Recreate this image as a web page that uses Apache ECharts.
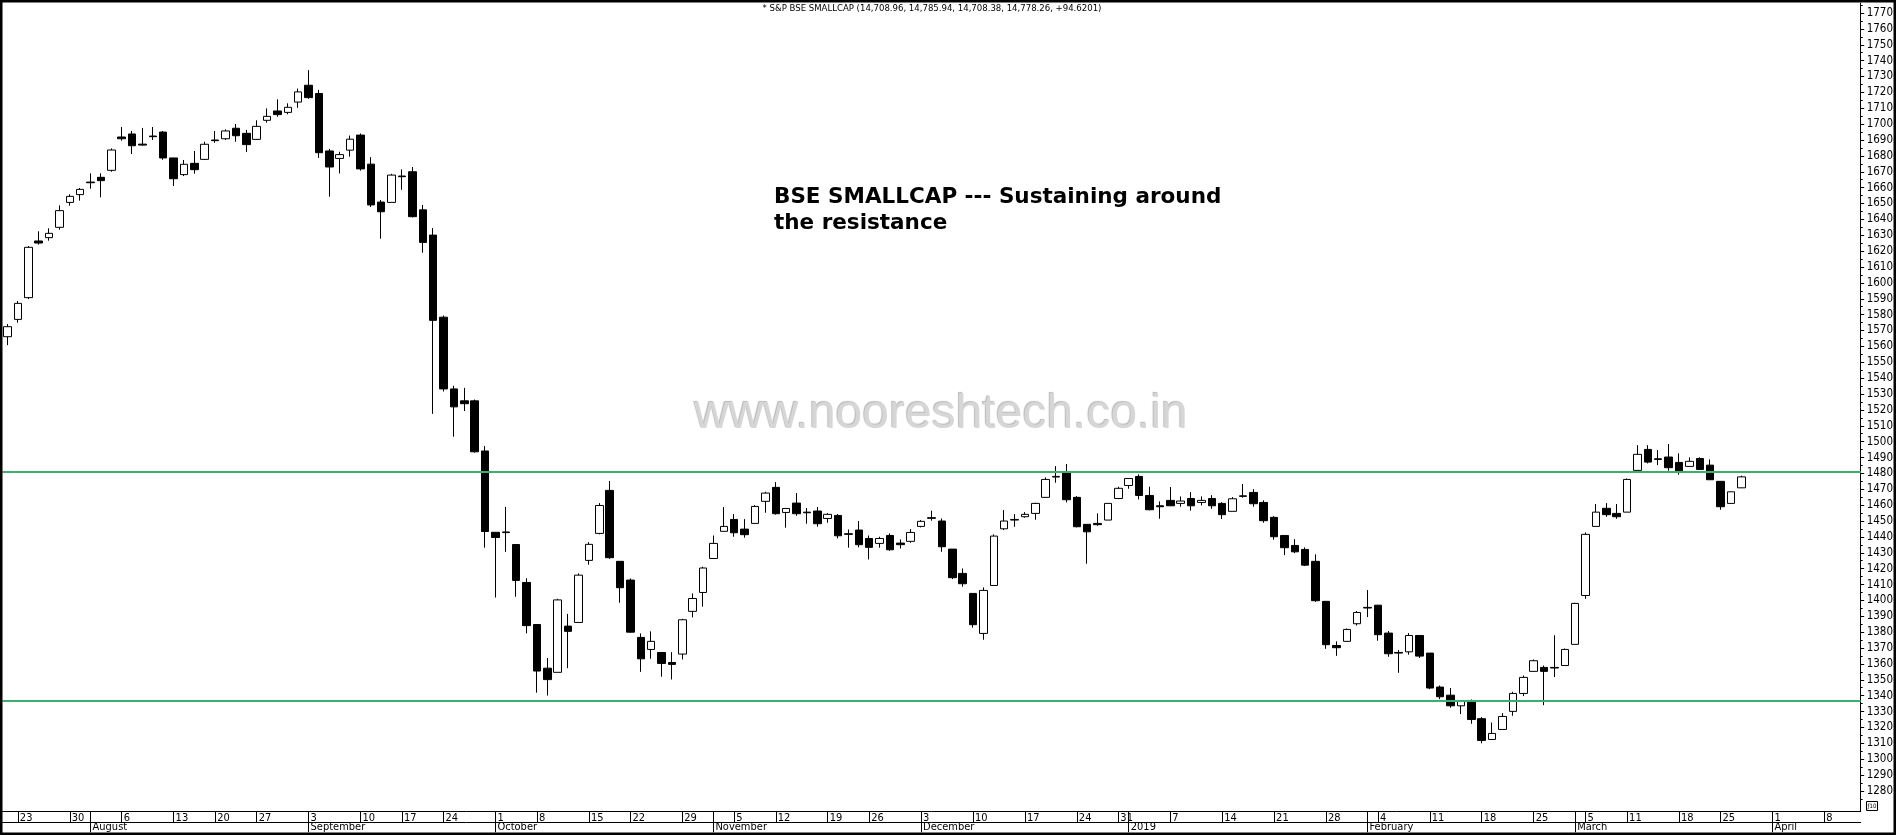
<!DOCTYPE html>
<html><head><meta charset="utf-8">
<script src="https://cdn.jsdelivr.net/npm/echarts@6/dist/echarts.min.js"></script>
<style>html,body{margin:0;padding:0;background:#fff}#c{width:1896px;height:835px}</style>
</head><body><div id="c"></div>
<script>
// Trading days per month (BSE), chart runs Jul 20 2018 .. Apr 11 2019
const jul18=[20,23,24,25,26,27,30,31];
const aug18=[1,2,3,6,7,8,9,10,13,14,16,17,20,21,23,24,27,28,29,30,31];
const sep18=[3,4,5,6,7,10,11,12,14,17,18,19,21,24,25,26,27,28];
const oct18=[1,3,4,5,8,9,10,11,12,15,16,17,19,22,23,24,25,26,29,30,31];
const nov18=[1,2,5,6,7,9,12,13,14,15,16,19,20,21,22,26,27,28,29,30];
const dec18=[3,4,5,6,7,10,11,12,13,14,17,18,19,20,21,24,26,27,28,31];
const jan19=[1,2,3,4,7,8,9,10,11,14,15,16,17,18,21,22,23,24,25,28,29,30,31];
const feb19=[1,4,5,6,7,8,11,12,13,14,15,18,19,20,21,22,25,26,27,28];
const mar19=[1,5,6,7,8,11,12,13,14,15,18,19,20,22,25,26,27,28,29];
const apr19=[1,2,3,4,5,8,9,10,11];

const opens=[1566.1,1577.0,1590.7,1626.4,1628.5,1635.0,1650.7,1655.6,1663.5,1666.5,
1670.9,1691.9,1693.8,1687.4,1692.5,1695.0,1678.7,1668.2,1675.3,1677.8,
1690.0,1690.8,1697.4,1694.2,1690.4,1702.4,1708.3,1707.4,1713.9,1724.5,
1719.3,1683.1,1678.4,1683.6,1693.1,1674.8,1650.9,1650.7,1667.3,1670.0,
1646.0,1630.1,1578.4,1533.2,1525.7,1525.7,1494.1,1442.9,1443.1,1435.2,
1411.3,1384.8,1357.3,1354.7,1383.8,1386.1,1425.2,1442.2,1469.3,1424.6,
1412.8,1376.7,1369.1,1367.2,1360.9,1366.2,1393.1,1405.0,1426.4,1443.5,
1451.0,1444.9,1448.5,1462.4,1471.2,1455.4,1461.3,1455.6,1456.3,1451.6,
1453.5,1442.0,1444.3,1439.0,1435.9,1440.9,1436.1,1437.2,1446.6,1452.1,
1450.0,1432.3,1417.0,1404.4,1379.2,1409.4,1445.1,1450.6,1452.7,1454.8,
1464.9,1477.7,1480.4,1464.9,1447.9,1448.5,1450.6,1464.2,1472.4,1478.1,
1466.1,1459.6,1463.0,1461.1,1464.2,1461.7,1464.2,1461.1,1456.1,1465.5,
1468.0,1461.7,1452.3,1440.9,1434.6,1432.1,1424.6,1399.4,1371.6,1374.2,
1385.3,1395.6,1397.0,1379.4,1367.2,1367.6,1377.9,1366.8,1345.4,1340.3,
1333.6,1336.6,1325.5,1312.4,1318.7,1330.1,1341.4,1355.3,1357.8,1357.8,
1359.0,1372.3,1403.1,1446.6,1458.0,1454.8,1455.6,1481.9,1495.1,1489.2,
1490.3,1486.9,1484.4,1489.4,1485.2,1475.0,1461.1,1470.9];
const highs=[1574.1,1588.6,1623.2,1632.5,1634.4,1648.8,1655.8,1659.8,1669.0,1669.0,
1684.7,1698.2,1695.7,1697.6,1698.2,1695.7,1678.8,1677.4,1683.1,1688.9,
1695.7,1696.7,1700.1,1696.3,1702.4,1709.9,1715.6,1713.1,1722.4,1734.0,
1721.6,1684.4,1682.6,1692.8,1694.1,1679.2,1652.2,1668.7,1671.5,1673.0,
1649.1,1634.5,1579.4,1535.2,1533.9,1526.5,1497.2,1442.9,1458.9,1435.2,
1413.9,1384.8,1363.7,1401.0,1391.5,1417.0,1436.7,1461.3,1475.2,1424.6,
1413.8,1379.2,1380.5,1367.2,1367.4,1388.4,1404.4,1421.2,1440.9,1458.8,
1454.4,1451.2,1460.0,1468.4,1474.5,1457.9,1467.6,1458.2,1458.8,1455.0,
1454.4,1444.7,1450.0,1440.9,1440.1,1442.2,1438.4,1444.9,1450.6,1456.5,
1451.6,1432.3,1420.1,1404.4,1408.2,1441.6,1456.9,1454.4,1455.6,1461.5,
1477.5,1484.6,1485.9,1465.7,1447.9,1454.8,1461.1,1471.6,1476.8,1479.4,
1471.6,1462.4,1471.4,1465.5,1468.2,1465.5,1466.3,1461.9,1465.1,1473.3,
1470.1,1463.0,1453.1,1440.9,1438.6,1433.4,1429.0,1399.4,1374.2,1382.3,
1393.3,1406.5,1397.0,1380.7,1368.7,1379.4,1377.9,1366.8,1346.4,1344.8,
1336.9,1337.6,1326.5,1323.1,1329.0,1342.4,1352.7,1362.8,1359.0,1378.1,
1369.7,1398.5,1442.8,1460.7,1461.3,1460.7,1476.8,1497.8,1497.8,1494.7,
1498.5,1492.6,1490.1,1490.1,1488.8,1475.0,1468.4,1478.6];
const lows=[1560.8,1574.9,1589.8,1624.1,1626.6,1633.5,1648.6,1651.8,1659.3,1653.9,
1670.0,1689.6,1681.2,1686.4,1690.0,1677.6,1661.0,1667.3,1668.8,1677.4,
1688.3,1690.0,1688.9,1682.4,1690.0,1700.9,1704.7,1706.2,1710.3,1716.0,
1678.7,1654.3,1668.9,1679.5,1670.7,1647.8,1627.8,1650.7,1658.6,1641.2,
1619.0,1517.5,1531.6,1503.1,1519.3,1493.1,1433.2,1401.8,1430.6,1402.3,
1379.2,1341.9,1340.1,1354.7,1357.3,1386.1,1422.5,1441.6,1426.2,1398.5,
1379.6,1355.0,1363.2,1351.9,1350.2,1362.8,1389.3,1396.0,1426.4,1443.5,
1440.1,1439.5,1448.5,1455.2,1454.0,1445.8,1453.3,1448.3,1446.4,1448.9,
1439.1,1433.2,1433.4,1425.8,1433.2,1431.3,1432.7,1436.3,1446.0,1450.2,
1430.6,1413.4,1408.6,1382.8,1375.2,1409.4,1444.3,1446.4,1452.1,1450.8,
1464.9,1474.1,1461.7,1446.0,1423.1,1447.0,1450.6,1463.8,1470.3,1463.6,
1456.7,1451.4,1459.6,1459.0,1456.5,1459.8,1457.7,1451.2,1456.1,1464.7,
1459.0,1448.9,1438.2,1428.5,1429.8,1421.6,1399.1,1369.5,1365.1,1374.2,
1384.2,1389.5,1374.6,1364.5,1354.4,1365.8,1363.7,1344.1,1337.8,1332.4,
1328.4,1322.3,1310.0,1312.0,1318.7,1327.3,1339.7,1355.3,1334.0,1351.7,
1359.0,1372.3,1401.0,1446.6,1452.7,1451.4,1455.6,1481.9,1486.3,1485.2,
1481.7,1479.2,1484.4,1482.5,1476.0,1457.1,1461.1,1470.8];
const closes=[1572.4,1587.1,1622.4,1625.1,1631.2,1645.5,1654.5,1658.9,1663.1,1664.4,
1683.7,1690.8,1686.4,1686.8,1692.1,1678.7,1665.6,1674.7,1671.3,1687.3,
1689.6,1695.7,1692.7,1687.1,1698.6,1704.9,1706.0,1710.6,1720.3,1716.7,
1682.0,1673.0,1680.8,1690.5,1671.8,1649.1,1644.8,1667.9,1666.9,1641.7,
1625.5,1576.4,1533.2,1521.9,1523.9,1493.6,1443.4,1439.6,1442.7,1412.6,
1384.1,1355.5,1350.1,1400.3,1380.5,1415.9,1435.3,1459.8,1426.9,1408.0,
1380.0,1363.2,1374.2,1360.3,1359.7,1387.8,1401.2,1420.4,1435.9,1446.6,
1442.6,1441.4,1459.2,1467.6,1454.6,1457.9,1454.6,1455.2,1448.3,1454.2,
1440.7,1441.6,1435.1,1433.4,1439.0,1431.9,1435.1,1442.8,1449.8,1451.7,
1433.8,1414.3,1410.5,1384.7,1406.3,1440.5,1450.0,1451.0,1454.2,1461.1,
1476.2,1478.1,1463.4,1446.4,1443.2,1447.7,1461.1,1470.6,1476.8,1466.1,
1457.1,1459.0,1459.6,1462.6,1459.6,1463.0,1459.6,1454.0,1464.0,1465.9,
1460.9,1450.2,1440.1,1433.2,1430.6,1422.2,1399.8,1372.1,1370.2,1381.7,
1392.4,1395.2,1378.4,1366.4,1366.8,1377.9,1364.9,1344.8,1339.3,1333.6,
1336.6,1325.0,1311.8,1316.2,1326.9,1341.4,1351.5,1362.0,1355.3,1357.4,
1369.1,1398.1,1441.6,1455.6,1454.0,1452.7,1476.2,1492.0,1487.1,1488.8,
1483.6,1481.0,1487.6,1482.5,1476.0,1459.0,1468.4,1477.8];

const yTicks=[1280,1290,1300,1310,1320,1330,1340,1350,1360,1370,1380,1390,1400,1410,1420,1430,1440,1450,1460,1470,1480,1490,1500,1510,1520,1530,1540,1550,1560,1570,1580,1590,1600,1610,1620,1630,1640,1650,1660,1670,1680,1690,1700,1710,1720,1730,1740,1750,1760,1770];
const levels=[1481,1337];
const monthNames=['January','February','March','April','May','June','July','August','September','October','November','December'];
const headerText='* S&P BSE SMALLCAP (14,708.96, 14,785.94, 14,708.38, 14,778.26, +94.6201)';
const titleLines=['BSE SMALLCAP --- Sustaining around','the resistance'];
const watermark='www.nooreshtech.co.in';

const monthLists=[[2018,7,jul18],[2018,8,aug18],[2018,9,sep18],[2018,10,oct18],[2018,11,nov18],[2018,12,dec18],[2019,1,jan19],[2019,2,feb19],[2019,3,mar19],[2019,4,apr19]];
const categories=[];
monthLists.forEach(([y,m,days])=>days.forEach(d=>categories.push(y+'-'+String(m).padStart(2,'0')+'-'+String(d).padStart(2,'0'))));
function parse(s){const p=s.split('-').map(Number);return new Date(Date.UTC(p[0],p[1]-1,p[2]));}
function mondayKey(s){const dt=parse(s);const wd=(dt.getUTCDay()+6)%7;return dt.getTime()-wd*86400000;}
const weekStart=new Set(), monthStart=new Set();
for(let i=1;i<categories.length;i++){
  if(mondayKey(categories[i])!==mondayKey(categories[i-1])) weekStart.add(i);
  if(categories[i].slice(0,7)!==categories[i-1].slice(0,7)) monthStart.add(i);
}
const ohlc=opens.map((o,i)=>[o,closes[i],lows[i],highs[i]]);
const yMinor=yTicks.map(v=>v-5).concat([1775]);

const NARROW='"Liberation Sans Narrow","Arial Narrow","DejaVu Sans Condensed",sans-serif';
const chart=echarts.init(document.getElementById('c'),null,{renderer:'canvas'});
const option={
  animation:false,
  backgroundColor:'#ffffff',
  grid:{left:2.3,right:31,top:3,bottom:23.3,show:false},
  xAxis:[{
    type:'category',data:categories,boundaryGap:true,
    axisLine:{show:true,lineStyle:{color:'#000',width:1}},
    axisTick:{show:true,alignWithLabel:true,length:10.6,interval:(i)=>weekStart.has(i)||monthStart.has(i),lineStyle:{color:'#000',width:1}},
    axisLabel:{show:true,interval:(i)=>weekStart.has(i),formatter:(v)=>String(Number(v.slice(8))),
      align:'left',verticalAlign:'top',padding:[0,0,0,2],margin:1,fontSize:11,lineHeight:10,color:'#000',fontFamily:NARROW},
    splitLine:{show:false}
  },{
    type:'category',data:categories,boundaryGap:true,position:'bottom',offset:10.6,
    axisLine:{show:true,lineStyle:{color:'#000',width:1}},
    axisTick:{show:true,alignWithLabel:true,length:10,interval:(i)=>monthStart.has(i),lineStyle:{color:'#000',width:1}},
    axisLabel:{show:true,interval:(i)=>monthStart.has(i),formatter:(v)=>{const m=Number(v.slice(5,7));return m===1?v.slice(0,4):monthNames[m-1];},
      align:'left',verticalAlign:'top',padding:[0,0,0,2],margin:0,fontSize:11,lineHeight:10,color:'#000',fontFamily:NARROW},
    splitLine:{show:false}
  }],
  yAxis:[{
    type:'value',position:'right',min:1266.9,max:1776.3,
    axisLine:{show:true,lineStyle:{color:'#000',width:1}},
    axisTick:{show:true,customValues:yTicks,length:3.5,lineStyle:{color:'#000'}},
    axisLabel:{show:true,customValues:yTicks,formatter:(v)=>String(Math.round(v)),margin:6,fontSize:11.5,color:'#000',fontFamily:NARROW},
    splitLine:{show:false}
  },{
    type:'value',position:'right',offset:0,min:1266.9,max:1776.3,
    axisLine:{show:false},
    axisTick:{show:true,customValues:yMinor,length:2,lineStyle:{color:'#000'}},
    axisLabel:{show:false},splitLine:{show:false}
  }],
  series:[{
    type:'candlestick',data:ohlc,xAxisIndex:0,yAxisIndex:0,barWidth:8,
    itemStyle:{color:'#ffffff',color0:'#000000',borderColor:'#000000',borderColor0:'#000000',borderColorDoji:'#000000',borderWidth:1},
    emphasis:{disabled:true},
    markLine:{silent:true,symbol:['none','none'],label:{show:false},animation:false,
      lineStyle:{color:'#3caf6e',width:2.2,type:'solid'},
      emphasis:{disabled:true},
      data:levels.map(v=>({yAxis:v}))}
  }],
  graphic:[
    {type:'text',z:1,style:{text:watermark,x:941,y:415,align:'center',verticalAlign:'middle',
      font:'48px "Liberation Sans", Arial, sans-serif',fill:'#d6d6d6',textShadowColor:'rgba(0,0,0,0.28)',textShadowBlur:1,textShadowOffsetX:-1,textShadowOffsetY:-1}},
    {type:'text',z:100,style:{text:headerText,x:932,y:9,align:'center',verticalAlign:'middle',font:'9.5px '+NARROW,fill:'#000'}},
    {type:'text',z:100,style:{text:titleLines[0],x:774,y:197.5,align:'left',verticalAlign:'middle',font:'bold 21.5px "DejaVu Sans", Verdana, sans-serif',fill:'#000'}},
    {type:'text',z:100,style:{text:titleLines[1],x:774,y:223.5,align:'left',verticalAlign:'middle',font:'bold 21.5px "DejaVu Sans", Verdana, sans-serif',fill:'#000'}},
    {type:'rect',z:100,shape:{x:1866.5,y:801.5,width:11,height:9},style:{fill:'#fff',stroke:'#000',lineWidth:1}},
    {type:'text',z:101,style:{text:'ƒ10',x:1872,y:806,align:'center',verticalAlign:'middle',font:'6px '+NARROW,fill:'#000'}},
    {type:'rect',z:200,silent:true,shape:{x:1,y:1,width:1894,height:833},style:{fill:'none',stroke:'#000',lineWidth:3}}
  ]
};
chart.setOption(option);
</script>
</body></html>
